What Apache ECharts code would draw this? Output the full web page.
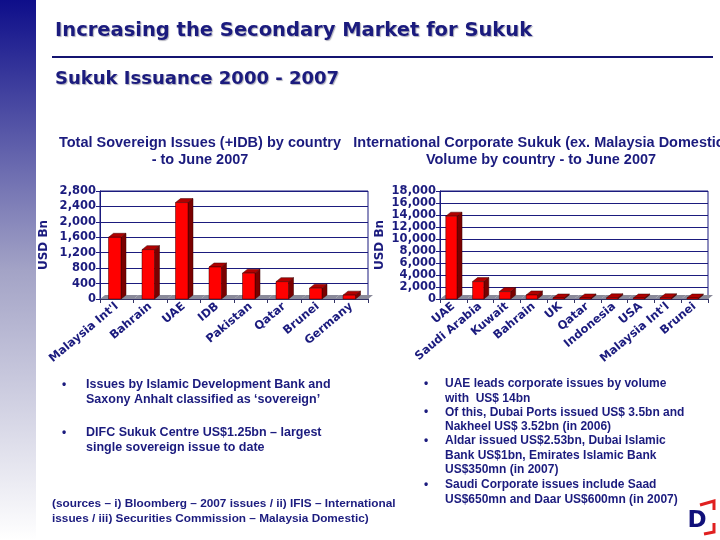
<!DOCTYPE html>
<html><head><meta charset="utf-8">
<script src="https://cdn.jsdelivr.net/npm/echarts@6/dist/echarts.min.js"></script>
<style>html,body{margin:0;padding:0;background:#fff}#c{width:720px;height:540px}</style>
</head><body><div id="c"></div>
<script>
var sovCategories = ["Malaysia Int'l", "Bahrain", "UAE", "IDB", "Pakistan", "Qatar", "Brunei", "Germany"];
var sovValues = [1600, 1280, 2500, 830, 670, 450, 280, 100];
var sovTicks = [0, 400, 800, 1200, 1600, 2000, 2400, 2800];
var corpCategories = ["UAE", "Saudi Arabia", "Kuwait", "Bahrain", "UK", "Qatar", "Indonesia", "USA", "Malaysia Int'l", "Brunei"];
var corpValues = [13800, 2900, 1230, 670, 150, 170, 200, 30, 200, 50];
var corpTicks = [0, 2000, 4000, 6000, 8000, 10000, 12000, 14000, 16000, 18000];

var NAVY = '#1b1b7e';
var chart = echarts.init(document.getElementById('c'), null, {renderer: 'canvas'});

function render3D(params, api) {
  var idx = api.value(0), v = api.value(1);
  var base = api.coord([idx, 0]);
  var top = api.coord([idx, v]);
  var band = api.size([1, 0])[0];
  var w = Math.min(band * 0.42, 12.5);
  var dx = 5, dy = 4;
  var x0 = base[0] - w / 2 - 2, x1 = x0 + w;
  var yb = base[1], yt = Math.min(top[1], yb - 1);
  var fl = base[0] - band / 2, fr = base[0] + band / 2;
  return {
    type: 'group',
    children: [
      {type: 'polygon', shape: {points: [[fl, yb], [fr, yb], [fr + dx, yb - dy], [fl + dx, yb - dy]]},
        style: {fill: '#8a8a9a', stroke: null}},
      {type: 'polygon', shape: {points: [[x1, yb], [x1 + dx, yb - dy], [x1 + dx, yt - dy], [x1, yt]]},
        style: {fill: '#7a0000', stroke: '#3a0000', lineWidth: 0.5}},
      {type: 'polygon', shape: {points: [[x0, yt], [x1, yt], [x1 + dx, yt - dy], [x0 + dx, yt - dy]]},
        style: {fill: '#b00000', stroke: '#3a0000', lineWidth: 0.5}},
      {type: 'rect', shape: {x: x0, y: yt, width: w, height: yb - yt},
        style: {fill: '#ff0000', stroke: '#3a0000', lineWidth: 0.5}}
    ]
  };
}

function yAxisCfg(ticks, gridIndex, gap) {
  return {
    type: 'value', gridIndex: gridIndex, min: ticks[0], max: ticks[ticks.length - 1],
    interval: ticks[1] - ticks[0],
    name: 'USD Bn', nameLocation: 'middle', nameGap: gap, nameRotate: 90,
    nameTextStyle: {color: NAVY, fontWeight: 'bold', fontSize: 12, fontFamily: 'DejaVu Sans'},
    axisLine: {show: true, lineStyle: {color: NAVY, width: 1}},
    axisTick: {show: true, length: 4, lineStyle: {color: NAVY}},
    axisLabel: {color: NAVY, fontWeight: 'bold', fontSize: 11.5, fontFamily: 'DejaVu Sans', margin: 4,
      formatter: function (v) { return v.toLocaleString('en-US'); }},
    splitLine: {show: true, lineStyle: {color: NAVY, width: 1}}
  };
}
function xAxisCfg(cats, gridIndex) {
  return {
    type: 'category', gridIndex: gridIndex, data: cats, boundaryGap: true,
    axisLine: {show: true, lineStyle: {color: '#333366'}},
    axisTick: {show: true, alignWithLabel: false, length: 4, lineStyle: {color: '#333366'}},
    axisLabel: {color: NAVY, fontWeight: 'bold', fontSize: 11.5, fontFamily: 'DejaVu Sans', rotate: 40, margin: 6, interval: 0},
    splitLine: {show: false}
  };
}

var txt = function (x, y, text, opt) {
  opt = opt || {};
  return {type: 'text', x: x, y: y, z: 10,
    style: {text: text, fill: opt.fill || NAVY, fontSize: opt.size || 12, fontWeight: 'bold',
      fontFamily: opt.family || 'Liberation Sans', textAlign: opt.align || 'left', textVerticalAlign: 'middle',
      lineHeight: opt.lh || 14.5,
      textShadowColor: opt.shadow ? 'rgba(120,120,140,0.6)' : 'transparent', textShadowOffsetX: 1, textShadowOffsetY: 1, textShadowBlur: 1}};
};

var graphics = [
  {type: 'rect', shape: {x: 0, y: 0, width: 36, height: 540}, z: 0,
    style: {fill: new echarts.graphic.LinearGradient(0, 0, 0, 1, [
      {offset: 0, color: '#0e0e8a'}, {offset: 0.5, color: '#a3a3c6'}, {offset: 1, color: '#ffffff'}])}},
  {type: 'line', shape: {x1: 52, y1: 57, x2: 713, y2: 57}, style: {stroke: '#141470', lineWidth: 2}},
  txt(55, 31, 'Increasing the Secondary Market for Sukuk', {size: 19.5, family: 'DejaVu Sans', shadow: true}),
  txt(55, 79, 'Sukuk Issuance 2000 - 2007', {size: 18, family: 'DejaVu Sans', shadow: true}),
  txt(200, 151, 'Total Sovereign Issues (+IDB) by country\n- to June 2007', {size: 14.5, align: 'center', lh: 17}),
  txt(541, 151, 'International Corporate Sukuk (ex. Malaysia Domestic)\nVolume by country - to June 2007', {size: 14.5, align: 'center', lh: 17}),
  txt(62, 385, '•', {size: 12}),
  txt(86, 392, 'Issues by Islamic Development Bank and\nSaxony Anhalt classified as \u2018sovereign\u2019', {size: 12.5}),
  txt(62, 433, '•', {size: 12}),
  txt(86, 440, 'DIFC Sukuk Centre US$1.25bn \u2013 largest\nsingle sovereign issue to date', {size: 12.5}),
  txt(52, 511, '(sources \u2013 i) Bloomberg \u2013 2007 issues / ii) IFIS \u2013 International\nissues / iii) Securities Commission \u2013 Malaysia Domestic)', {size: 11.8}),
  txt(424, 384, '•', {size: 12}),
  txt(445, 391, 'UAE leads corporate issues by volume\nwith  US$ 14bn', {size: 12}),
  txt(424, 412, '•', {size: 12}),
  txt(445, 419.5, 'Of this, Dubai Ports issued US$ 3.5bn and\nNakheel US$ 3.52bn (in 2006)', {size: 12}),
  txt(424, 441, '•', {size: 12}),
  txt(445, 455.5, 'Aldar issued US$2.53bn, Dubai Islamic\nBank US$1bn, Emirates Islamic Bank\nUS$350mn (in 2007)', {size: 12}),
  txt(424, 485, '•', {size: 12}),
  txt(445, 492, 'Saudi Corporate issues include Saad\nUS$650mn and Daar US$600mn (in 2007)', {size: 12}),
  {type: 'polyline', shape: {points: [[700, 505], [714, 501], [714, 510]]}, style: {stroke: '#e02020', lineWidth: 3, fill: null}},
  {type: 'polyline', shape: {points: [[704, 534], [714, 532], [714, 523]]}, style: {stroke: '#e02020', lineWidth: 3, fill: null}},
  txt(697, 521, 'D', {size: 23, family: 'DejaVu Sans', align: 'center', fill: '#10107a'})
];

chart.setOption({
  animation: false,
  backgroundColor: '#ffffff',
  grid: [
    {left: 100, right: 352, top: 191, bottom: 241, show: true, borderColor: NAVY, borderWidth: 1, backgroundColor: '#ffffff'},
    {left: 440, right: 12, top: 191, bottom: 241, show: true, borderColor: NAVY, borderWidth: 1, backgroundColor: '#ffffff'}
  ],
  xAxis: [xAxisCfg(sovCategories, 0), xAxisCfg(corpCategories, 1)],
  yAxis: [yAxisCfg(sovTicks, 0, 50), yAxisCfg(corpTicks, 1, 54)],
  series: [
    {type: 'custom', xAxisIndex: 0, yAxisIndex: 0, renderItem: render3D, clip: false,
      data: sovValues.map(function (v, i) { return [i, v]; })},
    {type: 'custom', xAxisIndex: 1, yAxisIndex: 1, renderItem: render3D, clip: false,
      data: corpValues.map(function (v, i) { return [i, v]; })}
  ],
  graphic: graphics
});
</script></body></html>
